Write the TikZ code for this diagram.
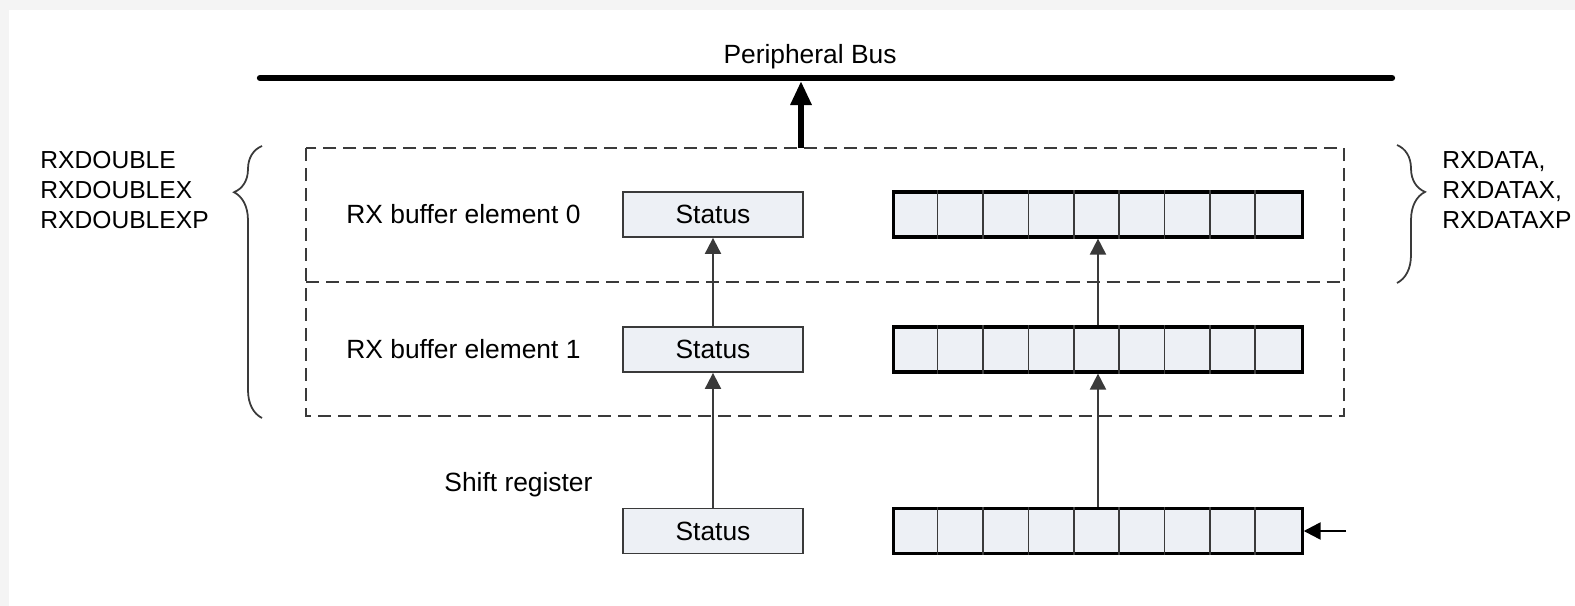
\documentclass[tikz,border=0pt]{standalone}
\usepackage{fontspec}
\setmainfont{Liberation Sans}
\usetikzlibrary{positioning}
\usetikzlibrary{arrows.meta}
\usetikzlibrary{decorations.pathreplacing}

\definecolor{cellfill}{HTML}{EDF0F5}
\definecolor{linegray}{HTML}{3A3A3A}
\definecolor{pagegray}{HTML}{F4F4F4}

\tikzset{
  statusbox/.style={draw=linegray, line width=0.5pt, fill=cellfill, minimum width=1.8cm, minimum height=0.45cm, inner sep=0pt},
  regbox/.style={draw=black, line width=0.9pt, fill=cellfill, minimum width=4.08cm, minimum height=0.45cm, inner sep=0pt},
  dashbox/.style={draw=linegray, line width=0.65pt, dash pattern=on 0.13cm off 0.07cm},
  feed/.style={draw=linegray, line width=0.55pt, -{Triangle[length=0.16cm,width=0.16cm]}},
  bracebox/.style={decorate, decoration={brace, amplitude=0.28cm, aspect=#1}, draw=linegray, line width=0.5pt},
  regnames/.style={anchor=west, align=left, font=\fontsize{7}{8.6}\selectfont},
}

\begin{document}
\begin{tikzpicture}[x=0.01cm, y=-0.01cm, font=\fontsize{7.5}{8.6}\selectfont]
	\useasboundingbox (0,0) rectangle (1575,606);
	\fill[pagegray] (0,0) rectangle (1575,606);
	\fill[white] (9,10) rectangle (1575,606);

	% peripheral bus
	\coordinate (busL) at (260,78);
	\coordinate (busR) at (1392,78);
	\draw[line width=1.8pt, line cap=round] (busL) -- (busR);
	\node (busname) at (810,57) {Peripheral Bus};

	% receive buffer
	\draw[dashbox] (306,148) rectangle (1344,416);
	\draw[dashbox] (306,282) -- (1344,282);
	\coordinate (out0) at (801,148);
	\coordinate (out1) at (801,81);
	\draw[line width=1.7pt, -{Triangle[length=0.24cm,width=0.2cm]}] (out0) -- (out1);

	\node[anchor=west] (elem0) at (334,214.5) {RX buffer element 0};
	\node[anchor=west] (elem1) at (334,349.5) {RX buffer element 1};
	\node[anchor=west] (shiftname) at (432,485) {Shift register};

	\node[statusbox] (status0) at (713,214.5) {Status};
	\node[statusbox] (status1) at (713,349.5) {Status};
	\node[statusbox] (statusS) at (713,531) {Status};

	\node[regbox] (reg0) at (1098,214.5) {};
	\node[regbox] (reg1) at (1098,349.5) {};
	\node[regbox] (regS) at (1098,531) {};
	\foreach \r in {reg0,reg1,regS}
		\foreach \i in {1,...,8}
			\draw[linegray, line width=0.45pt] ([xshift=\i*0.4533cm]\r.south west) -- ([xshift=\i*0.4533cm]\r.north west);

	\draw[feed] (statusS) -- (status1);
	\draw[feed] (status1) -- (status0);
	\draw[feed] (regS) -- (reg1);
	\draw[feed] (reg1) -- (reg0);

	\coordinate (rxin) at (1346,531);
	\draw[line width=0.7pt, -{Triangle[length=0.17cm,width=0.17cm]}] (rxin) -- (regS);

	% register names
	\coordinate (bl0) at (262,418);
	\coordinate (bl1) at (262,146);
	\draw[bracebox=0.83] (bl0) -- (bl1);
	\node[regnames] (dblnames) at (28,190) {RXDOUBLE\\RXDOUBLEX\\RXDOUBLEXP};

	\coordinate (br0) at (1397,145);
	\coordinate (br1) at (1397,283);
	\draw[bracebox=0.34] (br0) -- (br1);
	\node[regnames] (datanames) at (1430,190) {RXDATA,\\RXDATAX,\\RXDATAXP};
\end{tikzpicture}
\end{document}
